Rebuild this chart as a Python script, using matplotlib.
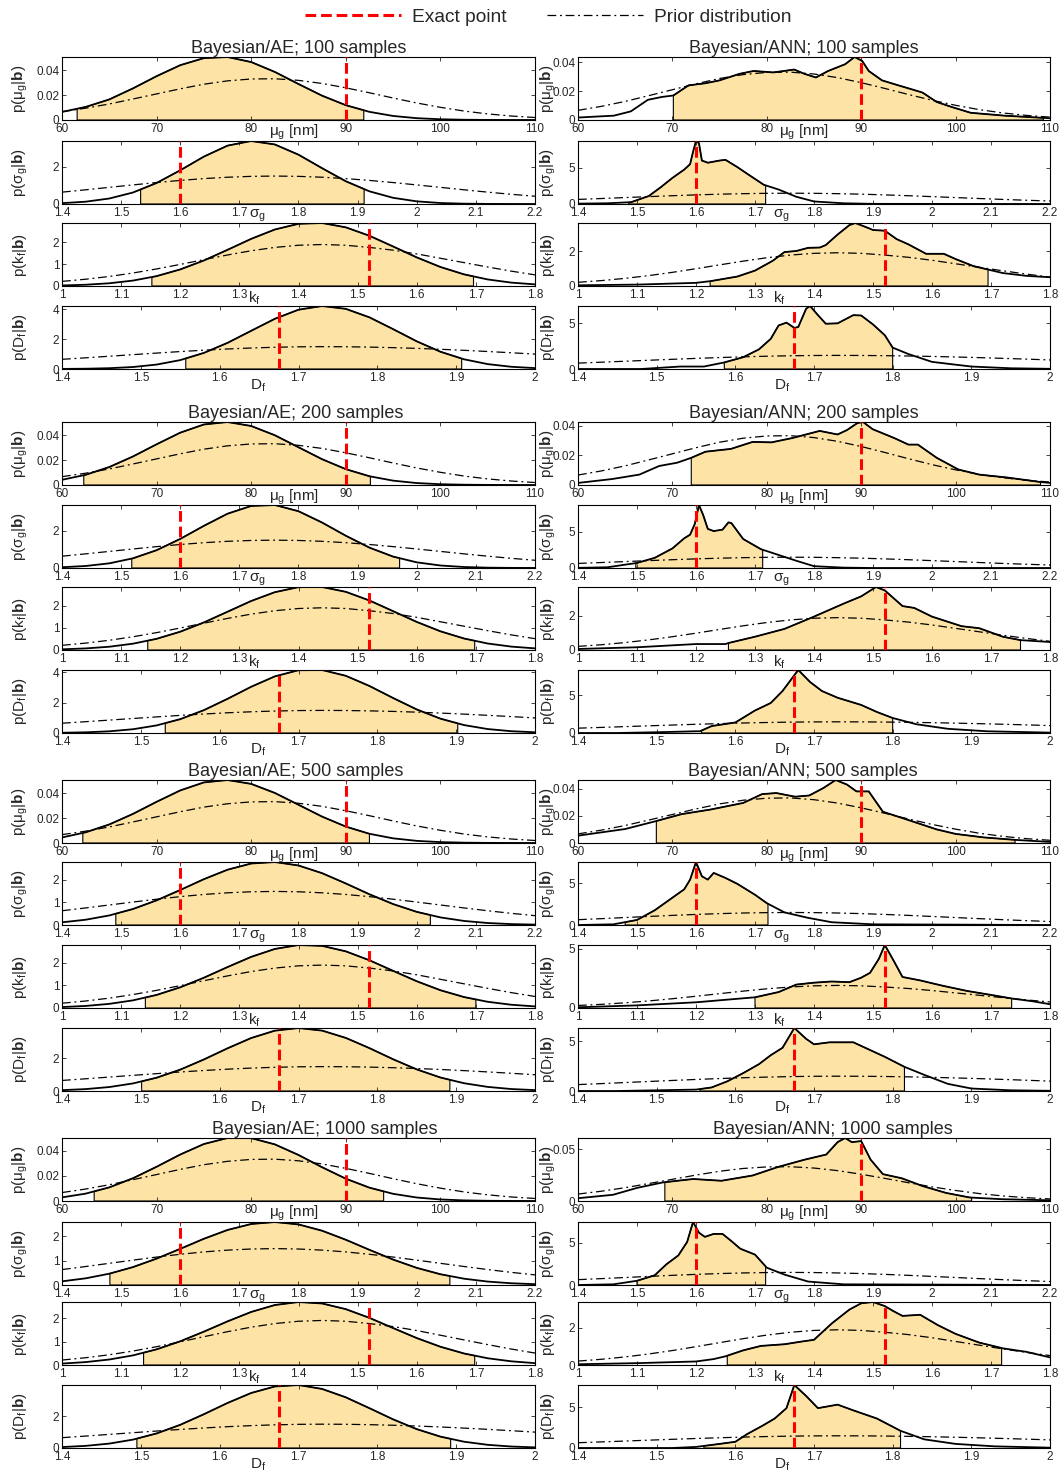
import numpy as np
import matplotlib
matplotlib.use('Agg')
import matplotlib.pyplot as plt
from matplotlib.lines import Line2D
from matplotlib.ticker import FormatStrFormatter

plt.rcParams['font.family'] = ['Liberation Sans', 'DejaVu Sans']
plt.rcParams['mathtext.fontset'] = 'custom'
plt.rcParams['mathtext.rm'] = 'Liberation Sans'
plt.rcParams['mathtext.it'] = 'Liberation Sans:italic'
plt.rcParams['mathtext.bf'] = 'Liberation Sans:bold'

# ---------------- data ----------------
SAMPLES = [100, 200, 500, 1000]
EXACT = [90, 1.6, 1.52, 1.675]

MU_GRID = [60, 62.5, 65, 67.5, 70, 72.5, 75, 77.5, 80, 82.5, 85, 87.5, 90, 92.5, 95, 97.5, 100, 102.5, 105, 107.5, 110]
SG_GRID = [1.40, 1.44, 1.48, 1.52, 1.56, 1.60, 1.64, 1.68, 1.72, 1.76, 1.80, 1.84, 1.88, 1.92, 1.96, 2.00, 2.04, 2.08, 2.12, 2.16, 2.20]
KF_GRID = [1.00, 1.04, 1.08, 1.12, 1.16, 1.20, 1.24, 1.28, 1.32, 1.36, 1.40, 1.44, 1.48, 1.52, 1.56, 1.60, 1.64, 1.68, 1.72, 1.76, 1.80]
DF_GRID = [1.40, 1.43, 1.46, 1.49, 1.52, 1.55, 1.58, 1.61, 1.64, 1.67, 1.70, 1.73, 1.76, 1.79, 1.82, 1.85, 1.88, 1.91, 1.94, 1.97, 2.00]

# prior distributions (same in every panel)
PRIOR_MU = [0.0067, 0.0095, 0.0129, 0.0169, 0.021, 0.0251, 0.0288, 0.0315, 0.033, 0.0332, 0.0319, 0.0294, 0.0259, 0.0219, 0.0177, 0.0137, 0.0102, 0.0072, 0.0049, 0.0032, 0.002]
PRIOR_SG = [0.632, 0.757, 0.888, 1.018, 1.144, 1.258, 1.355, 1.428, 1.474, 1.49, 1.474, 1.428, 1.355, 1.258, 1.144, 1.018, 0.888, 0.757, 0.632, 0.517, 0.414]
PRIOR_KF = [0.211, 0.31, 0.437, 0.595, 0.781, 0.989, 1.207, 1.421, 1.614, 1.767, 1.866, 1.9, 1.866, 1.767, 1.64, 1.47, 1.27, 1.07, 0.87, 0.68, 0.51]
PRIOR_DF = [0.645, 0.746, 0.851, 0.957, 1.061, 1.162, 1.253, 1.334, 1.4, 1.449, 1.48, 1.49, 1.483, 1.46, 1.424, 1.375, 1.315, 1.245, 1.166, 1.082, 0.994]

# Bayesian/AE posteriors (on the grids above)
AE100_MU = [0.0065, 0.0105, 0.01656, 0.02544, 0.03527, 0.04412, 0.0498, 0.0507, 0.04663, 0.03868, 0.02895, 0.01955, 0.01192, 0.00656, 0.00325, 0.00146, 0.00059, 0.00021, 0.00007, 0.00002, 0.0]
AE100_SG = [0.045, 0.123, 0.293, 0.612, 1.121, 1.798, 2.528, 3.113, 3.36, 3.175, 2.63, 1.908, 1.213, 0.676, 0.33, 0.141, 0.053, 0.017, 0.005, 0.001, 0.0]
AE100_KF = [0.025, 0.058, 0.125, 0.248, 0.452, 0.759, 1.169, 1.657, 2.159, 2.587, 2.849, 2.885, 2.686, 2.3, 1.81, 1.31, 0.871, 0.533, 0.3, 0.155, 0.074]
AE100_DF = [0.006, 0.019, 0.053, 0.132, 0.295, 0.593, 1.073, 1.743, 2.547, 3.347, 3.953, 4.2, 4.01, 3.443, 2.658, 1.845, 1.152, 0.646, 0.326, 0.148, 0.06]

AE200_MU = [0.00418, 0.0082, 0.01445, 0.02293, 0.03274, 0.04208, 0.04867, 0.05066, 0.04745, 0.04, 0.03035, 0.02072, 0.01274, 0.00704, 0.0035, 0.00157, 0.00063, 0.00023, 0.00007, 0.00002, 0.0]
AE200_SG = [0.041, 0.107, 0.25, 0.518, 0.953, 1.557, 2.257, 2.906, 3.322, 3.372, 3.039, 2.431, 1.727, 1.09, 0.61, 0.303, 0.134, 0.053, 0.018, 0.006, 0.002]
AE200_KF = [0.031, 0.071, 0.147, 0.284, 0.503, 0.823, 1.24, 1.722, 2.205, 2.601, 2.828, 2.834, 2.617, 2.227, 1.747, 1.263, 0.841, 0.517, 0.292, 0.152, 0.073]
AE200_DF = [0.017, 0.045, 0.111, 0.248, 0.5, 0.913, 1.507, 2.254, 3.05, 3.735, 4.141, 4.155, 3.773, 3.101, 2.307, 1.553, 0.947, 0.522, 0.26, 0.118, 0.048]

AE500_MU = [0.00445, 0.00857, 0.01489, 0.02335, 0.03305, 0.0422, 0.04863, 0.05056, 0.04744, 0.04017, 0.03069, 0.02116, 0.01317, 0.00739, 0.00374, 0.00171, 0.00071, 0.00026, 0.00009, 0.00003, 0.00001]
AE500_SG = [0.119, 0.234, 0.424, 0.709, 1.093, 1.553, 2.033, 2.453, 2.728, 2.795, 2.64, 2.298, 1.843, 1.363, 0.929, 0.583, 0.337, 0.18, 0.088, 0.04, 0.017]
AE500_KF = [0.042, 0.091, 0.183, 0.338, 0.579, 0.916, 1.34, 1.812, 2.263, 2.613, 2.788, 2.75, 2.507, 2.112, 1.645, 1.184, 0.787, 0.484, 0.275, 0.144, 0.07]
AE500_DF = [0.051, 0.116, 0.242, 0.462, 0.812, 1.306, 1.927, 2.609, 3.238, 3.687, 3.85, 3.69, 3.245, 2.62, 1.94, 1.32, 0.825, 0.475, 0.25, 0.12, 0.054]

AE1000_MU = [0.00286, 0.00585, 0.01082, 0.01805, 0.02717, 0.03689, 0.04522, 0.05, 0.0499, 0.04494, 0.03652, 0.02678, 0.01771, 0.01058, 0.0057, 0.00277, 0.00122, 0.00048, 0.00017, 0.00006, 0.00002]
AE1000_SG = [0.15, 0.273, 0.463, 0.733, 1.08, 1.481, 1.893, 2.254, 2.498, 2.58, 2.481, 2.222, 1.853, 1.44, 1.042, 0.702, 0.441, 0.258, 0.14, 0.071, 0.034]
AE1000_KF = [0.061, 0.124, 0.234, 0.41, 0.668, 1.011, 1.423, 1.861, 2.263, 2.558, 2.687, 2.624, 2.382, 2.01, 1.576, 1.149, 0.779, 0.491, 0.287, 0.157, 0.079]
AE1000_DF = [0.059, 0.133, 0.276, 0.524, 0.911, 1.45, 2.113, 2.818, 3.442, 3.849, 3.941, 3.694, 3.17, 2.49, 1.792, 1.18, 0.712, 0.393, 0.199, 0.092, 0.039]

# Bayesian/ANN posteriors as (x, density) pairs
ANN100_MU = [(60, 0.0017), (62, 0.0024), (63.8, 0.003), (65.6, 0.006), (67.4, 0.014), (68.9, 0.016), (70.1, 0.017), (71.7, 0.024), (73.5, 0.0255), (75, 0.0275), (77.1, 0.032), (78.6, 0.034), (80.7, 0.033), (82.9, 0.035), (84, 0.032), (85.2, 0.0295), (86.5, 0.034), (88.3, 0.0387), (89.3, 0.0437), (90.1, 0.041), (90.8, 0.034), (92.2, 0.0275), (93.7, 0.0245), (95.5, 0.021), (96.5, 0.019), (98, 0.0125), (99.6, 0.009), (101.6, 0.005), (105.2, 0.003), (108.7, 0.0017), (110, 0.0012)]
ANN100_SG = [(1.4, 0.05), (1.45, 0.1), (1.49, 0.25), (1.52, 1.1), (1.54, 2.3), (1.56, 3.6), (1.58, 4.75), (1.59, 5.5), (1.595, 7.2), (1.6, 8.7), (1.605, 8.4), (1.61, 6.0), (1.62, 5.7), (1.64, 6.0), (1.65, 6.1), (1.67, 5.1), (1.69, 4.0), (1.715, 2.65), (1.74, 2.0), (1.77, 1.0), (1.8, 0.35), (1.85, 0.1), (1.9, 0.02), (2.2, 0.0)]
ANN100_KF = [(1.0, 0.04), (1.1, 0.08), (1.2, 0.18), (1.225, 0.28), (1.27, 0.54), (1.3, 0.88), (1.33, 1.44), (1.35, 1.94), (1.37, 2.0), (1.39, 2.18), (1.41, 2.2), (1.42, 2.34), (1.44, 2.94), (1.46, 3.48), (1.47, 3.6), (1.49, 3.34), (1.5, 3.2), (1.52, 3.16), (1.54, 2.68), (1.56, 2.38), (1.59, 1.84), (1.62, 1.84), (1.64, 1.54), (1.67, 1.14), (1.695, 0.94), (1.72, 0.74), (1.76, 0.58), (1.8, 0.5)]
ANN100_DF = [(1.4, 0.0), (1.48, 0.0), (1.53, 0.27), (1.56, 0.27), (1.585, 0.7), (1.61, 1.29), (1.63, 2.15), (1.645, 3.3), (1.655, 4.77), (1.665, 5.08), (1.675, 4.5), (1.68, 4.6), (1.69, 6.6), (1.695, 6.9), (1.705, 5.9), (1.715, 4.96), (1.73, 5.0), (1.75, 5.9), (1.76, 5.86), (1.775, 4.88), (1.79, 3.7), (1.8, 2.34), (1.82, 1.64), (1.85, 0.78), (1.9, 0.27), (1.95, 0.08), (2.0, 0.02)]

ANN200_MU = [(60, 0.0014), (63.6, 0.004), (66.5, 0.007), (68.6, 0.0128), (70.5, 0.015), (72, 0.0183), (73.5, 0.0224), (76.2, 0.0243), (78.5, 0.029), (80.5, 0.0287), (82.7, 0.0316), (85.6, 0.0364), (87.5, 0.034), (88.5, 0.037), (89.6, 0.0417), (90.2, 0.0424), (91.2, 0.0376), (93.5, 0.0316), (95, 0.0272), (96, 0.0272), (98, 0.0183), (100.3, 0.0104), (102.5, 0.007), (105.5, 0.005), (109, 0.002), (110, 0.0014)]
ANN200_SG = [(1.4, 0.02), (1.45, 0.1), (1.5, 0.7), (1.53, 1.4), (1.56, 2.7), (1.58, 4.1), (1.59, 4.6), (1.598, 6.1), (1.605, 8.7), (1.612, 7.35), (1.62, 5.4), (1.63, 5.1), (1.645, 5.3), (1.655, 6.3), (1.66, 6.2), (1.68, 4.0), (1.71, 2.6), (1.74, 1.8), (1.77, 1.0), (1.8, 0.25), (1.85, 0.05), (1.9, 0.0), (2.2, 0.0)]
ANN200_KF = [(1.0, 0.06), (1.1, 0.16), (1.2, 0.35), (1.25, 0.35), (1.255, 0.41), (1.3, 0.78), (1.35, 1.24), (1.4, 1.96), (1.45, 2.72), (1.48, 3.15), (1.505, 3.7), (1.52, 3.5), (1.55, 2.58), (1.57, 2.47), (1.6, 1.96), (1.65, 1.4), (1.68, 1.28), (1.72, 0.78), (1.75, 0.58), (1.8, 0.47)]
ANN200_DF = [(1.4, 0.0), (1.45, 0.0), (1.5, 0.1), (1.55, 0.23), (1.555, 0.23), (1.57, 0.93), (1.6, 1.4), (1.625, 3.0), (1.645, 4.0), (1.66, 5.6), (1.675, 7.7), (1.68, 8.4), (1.695, 6.8), (1.71, 5.6), (1.73, 4.7), (1.76, 3.74), (1.78, 2.8), (1.8, 2.0), (1.83, 1.17), (1.87, 0.56), (1.92, 0.23), (2.0, 0.05)]

ANN500_MU = [(60, 0.0054), (65, 0.0103), (68.2, 0.016), (71, 0.0213), (74, 0.0246), (77.5, 0.0295), (79.5, 0.036), (81, 0.0368), (83, 0.0341), (84.5, 0.035), (86, 0.0405), (87.3, 0.0464), (88.5, 0.043), (89.5, 0.038), (90.8, 0.038), (92.3, 0.023), (94, 0.0192), (96, 0.0146), (98, 0.01), (100, 0.0067), (103, 0.0041), (106.3, 0.0023), (110, 0.0008)]
ANN500_SG = [(1.4, 0.0), (1.46, 0.08), (1.5, 0.6), (1.53, 1.75), (1.56, 3.25), (1.58, 4.25), (1.59, 5.4), (1.6, 7.5), (1.61, 5.8), (1.62, 5.4), (1.63, 6.2), (1.65, 5.6), (1.67, 4.9), (1.7, 3.6), (1.72, 2.6), (1.75, 1.5), (1.79, 0.85), (1.83, 0.33), (1.9, 0.08), (2.2, 0.0)]
ANN500_KF = [(1.0, 0.06), (1.1, 0.22), (1.2, 0.48), (1.3, 0.9), (1.34, 1.34), (1.37, 1.97), (1.4, 2.13), (1.43, 2.23), (1.46, 2.17), (1.48, 2.55), (1.495, 2.96), (1.51, 4.14), (1.52, 5.3), (1.535, 3.98), (1.55, 2.61), (1.58, 2.32), (1.62, 1.85), (1.66, 1.43), (1.7, 1.1), (1.735, 0.8), (1.77, 0.57), (1.8, 0.32)]
ANN500_DF = [(1.4, 0.0), (1.45, 0.0), (1.5, 0.07), (1.55, 0.14), (1.57, 0.36), (1.59, 0.98), (1.61, 1.8), (1.63, 2.7), (1.645, 3.6), (1.66, 4.35), (1.675, 6.34), (1.69, 5.25), (1.7, 4.7), (1.72, 4.9), (1.75, 4.9), (1.77, 4.17), (1.79, 3.44), (1.815, 2.43), (1.84, 1.63), (1.87, 0.72), (1.9, 0.25), (1.95, 0.07), (2.0, 0.02)]

ANN1000_MU = [(60, 0.0027), (63.7, 0.006), (66.3, 0.0128), (69, 0.018), (72.2, 0.0213), (75.2, 0.0196), (78.5, 0.0247), (81.2, 0.033), (84, 0.04), (86.3, 0.045), (87.5, 0.057), (88.3, 0.061), (89, 0.057), (90, 0.058), (91, 0.04), (92.3, 0.026), (94.3, 0.022), (96.5, 0.0145), (99, 0.0078), (101.5, 0.0034), (105, 0.0017), (110, 0.0007)]
ANN1000_SG = [(1.4, 0.0), (1.46, 0.08), (1.5, 0.5), (1.53, 1.15), (1.55, 2.46), (1.57, 3.5), (1.585, 5.1), (1.595, 7.46), (1.605, 6.2), (1.615, 5.7), (1.63, 6.05), (1.645, 6.05), (1.66, 5.2), (1.675, 4.3), (1.7, 3.6), (1.72, 2.05), (1.75, 1.23), (1.79, 0.41), (1.85, 0.08), (2.2, 0.0)]
ANN1000_KF = [(1.0, 0.04), (1.1, 0.1), (1.2, 0.19), (1.23, 0.32), (1.25, 0.47), (1.28, 0.79), (1.31, 1.03), (1.35, 1.12), (1.38, 1.27), (1.4, 1.36), (1.43, 2.24), (1.46, 2.99), (1.48, 3.33), (1.5, 3.4), (1.52, 3.18), (1.535, 2.9), (1.55, 2.65), (1.58, 2.71), (1.61, 2.15), (1.64, 1.68), (1.68, 1.21), (1.72, 0.9), (1.76, 0.71), (1.8, 0.41)]
ANN1000_DF = [(1.4, 0.0), (1.52, 0.0), (1.55, 0.13), (1.58, 0.5), (1.6, 0.76), (1.615, 1.7), (1.635, 2.75), (1.65, 3.6), (1.665, 4.87), (1.675, 7.7), (1.69, 6.36), (1.705, 4.87), (1.73, 5.3), (1.75, 4.6), (1.78, 3.6), (1.81, 2.1), (1.84, 1.06), (1.88, 0.5), (1.93, 0.2), (2.0, 0.04)]

# shaded credible intervals (mu_g, sigma_g, k_f, D_f)
AE100_CI = [(61.6, 91.9), (1.533, 1.911), (1.152, 1.696), (1.557, 1.907)]
AE200_CI = [(62.3, 92.6), (1.518, 1.971), (1.145, 1.698), (1.531, 1.902)]
AE500_CI = [(62.2, 92.5), (1.491, 2.023), (1.141, 1.700), (1.501, 1.892)]
AE1000_CI = [(63.4, 94.0), (1.481, 2.056), (1.138, 1.698), (1.495, 1.893)]
ANN100_CI = [(70.1, 109.3), (1.486, 1.718), (1.224, 1.695), (1.586, 1.800)]
ANN200_CI = [(72.0, 109.0), (1.498, 1.713), (1.255, 1.750), (1.557, 1.800)]
ANN500_CI = [(68.3, 106.3), (1.480, 1.722), (1.300, 1.735), (1.555, 1.815)]
ANN1000_CI = [(69.2, 101.7), (1.500, 1.718), (1.253, 1.718), (1.560, 1.810)]

# axis ticks
XTICKS = [[60, 70, 80, 90, 100, 110],
          [1.4, 1.5, 1.6, 1.7, 1.8, 1.9, 2.0, 2.1, 2.2],
          [1.0, 1.1, 1.2, 1.3, 1.4, 1.5, 1.6, 1.7, 1.8],
          [1.4, 1.5, 1.6, 1.7, 1.8, 1.9, 2.0]]
XLIMS = [(60, 110), (1.4, 2.2), (1.0, 1.8), (1.4, 2.0)]
AE_YTICKS = [[[0, 0.02, 0.04], [0, 2], [0, 1, 2], [0, 2, 4]],
             [[0, 0.02, 0.04], [0, 2], [0, 1, 2], [0, 2, 4]],
             [[0, 0.02, 0.04], [0, 1, 2], [0, 1, 2], [0, 2]],
             [[0, 0.02, 0.04], [0, 1, 2], [0, 1, 2], [0, 2]]]
ANN_YTICKS = [[[0, 0.02, 0.04], [0, 5], [0, 2], [0, 5]],
              [[0, 0.02, 0.04], [0, 5], [0, 2], [0, 5]],
              [[0, 0.02, 0.04], [0, 5], [0, 5], [0, 5]],
              [[0, 0.05], [0, 5], [0, 2], [0, 5]]]

YLABELS = [r'p(μ$_\mathrm{g}$|$\mathbf{b}$)', r'p(σ$_\mathrm{g}$|$\mathbf{b}$)',
           r'p(k$_\mathrm{f}$|$\mathbf{b}$)', r'p(D$_\mathrm{f}$|$\mathbf{b}$)']
XLABELS = [r'μ$_\mathrm{g}$ [nm]', r'σ$_\mathrm{g}$', r'k$_\mathrm{f}$', r'D$_\mathrm{f}$']

# ---------------- tables built from the arrays ----------------
GRIDS = [MU_GRID, SG_GRID, KF_GRID, DF_GRID]
PRIORS = [PRIOR_MU, PRIOR_SG, PRIOR_KF, PRIOR_DF]
AE = {100: [AE100_MU, AE100_SG, AE100_KF, AE100_DF],
      200: [AE200_MU, AE200_SG, AE200_KF, AE200_DF],
      500: [AE500_MU, AE500_SG, AE500_KF, AE500_DF],
      1000: [AE1000_MU, AE1000_SG, AE1000_KF, AE1000_DF]}
ANN = {100: [ANN100_MU, ANN100_SG, ANN100_KF, ANN100_DF],
       200: [ANN200_MU, ANN200_SG, ANN200_KF, ANN200_DF],
       500: [ANN500_MU, ANN500_SG, ANN500_KF, ANN500_DF],
       1000: [ANN1000_MU, ANN1000_SG, ANN1000_KF, ANN1000_DF]}
AE_CI = {100: AE100_CI, 200: AE200_CI, 500: AE500_CI, 1000: AE1000_CI}
ANN_CI = {100: ANN100_CI, 200: ANN200_CI, 500: ANN500_CI, 1000: ANN1000_CI}

# ---------------- style / layout ----------------
FILL = '#FDE3A5'
RED_LS = (0, (3.5, 1.6))
PRIOR_LS = (0, (7, 3, 1.5, 3))
W, H = 1063, 1475
COL_LEFT = [62, 578]
COL_W = [473, 472]
ROW_TOPS = [[57, 141, 223, 306], [422, 505, 587, 670], [780, 862, 945, 1028], [1138, 1222, 1302, 1385]]
AX_H = 63
TITLE_X = [[0.5, 0.495, 0.495, 0.556], [0.479, 0.479, 0.477, 0.54]]
XL_FRAC = [[0.49, 0.414, 0.406, 0.414], [0.479, 0.432, 0.426, 0.432]]
XL_OFF = [12, 12, 12, 17]
YL_X = [-42 / 473, -30 / 472]

fig = plt.figure(figsize=(W / 100, H / 100), dpi=100)


def draw_panel(ax, x, y, prior, ci, exact, pi):
    x = np.asarray(x, float)
    y = np.asarray(y, float)
    lo, hi = ci
    m = (x > lo) & (x < hi)
    xs = np.concatenate([[lo, lo], x[m], [hi, hi]])
    ys = np.concatenate([[0, np.interp(lo, x, y)], y[m], [np.interp(hi, x, y), 0]])
    ax.fill(xs, ys, facecolor=FILL, edgecolor='black', lw=0.8, zorder=1)
    ax.plot(GRIDS[pi], prior, color='black', lw=0.9, ls=PRIOR_LS, zorder=2)
    ax.plot(x, y, color='black', lw=1.3, zorder=3)
    ax.axvline(exact, color='red', lw=2.2, ls=RED_LS, zorder=4)
    ax.set_xlim(*XLIMS[pi])
    ax.set_ylim(0, y.max())


for gi, n in enumerate(SAMPLES):
    for col in range(2):
        for pi in range(4):
            top = ROW_TOPS[gi][pi]
            ax = fig.add_axes([COL_LEFT[col] / W, 1 - (top + AX_H) / H, COL_W[col] / W, AX_H / H])
            if col == 0:
                x, y = GRIDS[pi], AE[n][pi]
                ci = AE_CI[n][pi]
                yt = AE_YTICKS[gi][pi]
            else:
                x, y = zip(*ANN[n][pi])
                ci = ANN_CI[n][pi]
                yt = ANN_YTICKS[gi][pi]
            draw_panel(ax, x, y, PRIORS[pi], ci, EXACT[pi], pi)
            ax.set_xticks(XTICKS[pi])
            ax.set_yticks(yt)
            ax.xaxis.set_major_formatter(FormatStrFormatter('%g'))
            ax.yaxis.set_major_formatter(FormatStrFormatter('%g'))
            ax.tick_params(direction='in', top=True, right=True, length=3, width=0.6,
                           labelsize=8.5, pad=2, colors='#262626')
            for s in ax.spines.values():
                s.set_linewidth(0.8)
            ax.set_xlabel(XLABELS[pi], fontsize=11, color='#262626')
            ax.xaxis.set_label_coords(XL_FRAC[col][pi], -XL_OFF[pi] / AX_H)
            ax.xaxis.label.set_va('center')
            ax.set_ylabel(YLABELS[pi], fontsize=11, color='#262626')
            ax.yaxis.set_label_coords(YL_X[col], 0.5)
            ax.yaxis.label.set_va('center')
            if pi == 0:
                method = 'AE' if col == 0 else 'ANN'
                ax.set_title(f'Bayesian/{method}; {n} samples', fontsize=13,
                             x=TITLE_X[col][gi], pad=3, color='#262626')

handles = [Line2D([], [], color='red', lw=2.2, ls=RED_LS),
           Line2D([], [], color='black', lw=0.9, ls=PRIOR_LS)]
fig.legend(handles, ['Exact point', 'Prior distribution'], loc='center',
           bbox_to_anchor=(0.516, 1 - 17 / H), ncol=2, frameon=False, fontsize=13.8,
           handlelength=5.0, columnspacing=2.1, handletextpad=0.6, labelcolor='#262626')

fig.savefig('out.png', dpi=100)
